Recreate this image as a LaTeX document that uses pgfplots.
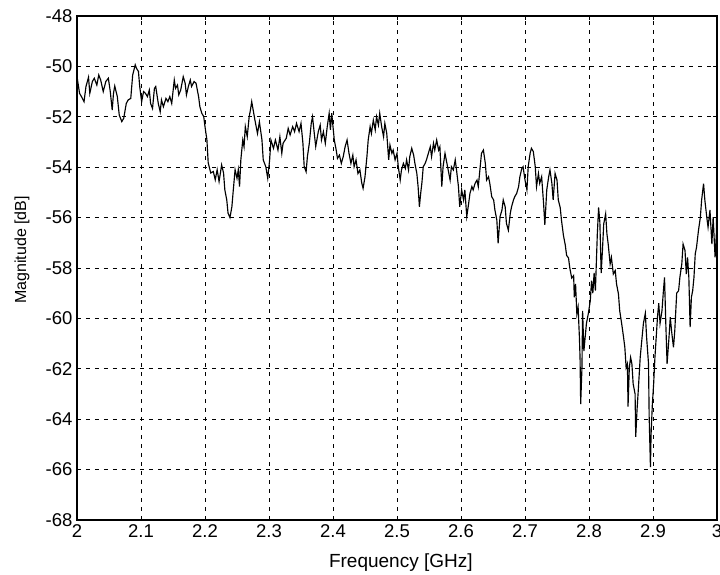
\documentclass[border=0pt]{standalone}
\usepackage{pgfplots}
\pgfplotsset{compat=1.18}
\usepackage{fontspec}
\setmainfont{Liberation Sans}
\begin{document}
\begin{tikzpicture}
\begin{axis}[
  name=ax, at={(0,0)}, anchor=south west,
  scale only axis, width=640pt, height=504pt,
  xmin=2, xmax=3, ymin=-68, ymax=-48,
  xtick={2,2.1,2.2,2.3,2.4,2.5,2.6,2.7,2.8,2.9,3},
  xticklabels={2,2.1,2.2,2.3,2.4,2.5,2.6,2.7,2.8,2.9,3},
  ytick={-68,-66,-64,-62,-60,-58,-56,-54,-52,-50,-48},
  yticklabels={-68,-66,-64,-62,-60,-58,-56,-54,-52,-50,-48},
  tick align=inside, major tick length=4pt,
  tick style={black, line width=0.6pt},
  axis line style={black, line width=1.2pt},
  grid=major,
  major grid style={black, line width=0.6pt, dash pattern=on 4pt off 5pt},
  ticklabel style={font=\fontsize{18.5}{21}\selectfont},
  xticklabel style={yshift=-1pt},
  yticklabel style={xshift=-1pt},
  xlabel={Frequency [GHz]},
  ylabel={Magnitude [dB]},
  xlabel style={font=\fontsize{19}{22}\selectfont, at={(axis description cs:0.506,-0.0853)}, anchor=center},
  ylabel style={font=\fontsize{16}{19}\selectfont, at={(axis description cs:-0.086,0.536)}, anchor=center, rotate=0},
  clip=true,
]
\addplot[black, line width=1.15pt] coordinates {
(2.000,-50.4) (2.004,-51.07) (2.007,-51.2) (2.011,-51.4) (2.014,-50.8) (2.018,-50.43) (2.020,-51.07) (2.024,-50.6) (2.027,-50.47) (2.031,-50.74) (2.034,-50.34) (2.037,-50.54) (2.041,-51.0) (2.045,-50.6) (2.049,-50.47) (2.052,-51.0) (2.055,-51.73) (2.057,-51.07) (2.059,-50.78) (2.063,-51.2) (2.066,-51.93) (2.070,-52.19) (2.073,-52.06) (2.077,-51.47) (2.080,-51.33) (2.084,-51.27) (2.087,-50.34) (2.091,-49.94) (2.093,-50.08) (2.096,-50.2) (2.098,-50.8) (2.101,-51.4) (2.104,-51.0) (2.107,-51.07) (2.110,-51.2) (2.113,-50.94) (2.115,-51.47) (2.118,-51.67) (2.121,-50.87) (2.123,-50.8) (2.127,-51.47) (2.130,-51.8) (2.132,-51.33) (2.135,-51.6) (2.139,-51.27) (2.142,-51.4) (2.145,-51.2) (2.148,-51.47) (2.152,-50.54) (2.154,-50.87) (2.157,-50.74) (2.159,-51.13) (2.162,-50.94) (2.166,-50.41) (2.169,-50.67) (2.171,-51.13) (2.174,-50.8) (2.177,-50.54) (2.179,-50.8) (2.183,-50.6) (2.186,-50.67) (2.190,-51.2) (2.192,-51.6) (2.195,-51.86) (2.198,-51.99) (2.200,-52.39)
(2.203,-52.92) (2.205,-53.83) (2.209,-54.23) (2.213,-54.17) (2.216,-54.5) (2.219,-54.1) (2.222,-54.57) (2.226,-53.91) (2.229,-54.23) (2.231,-54.9) (2.234,-55.3) (2.236,-55.82) (2.239,-56.0) (2.242,-55.57) (2.244,-54.97) (2.247,-54.1) (2.250,-54.44) (2.252,-54.1) (2.254,-54.77) (2.256,-53.71) (2.259,-52.92) (2.261,-53.19) (2.263,-52.39) (2.266,-52.79) (2.269,-52.0) (2.271,-51.73) (2.273,-51.4)
(2.278,-52.13) (2.282,-52.66) (2.285,-52.2) (2.289,-52.92) (2.291,-53.71) (2.295,-53.98) (2.298,-54.44) (2.301,-53.71) (2.303,-52.92) (2.307,-53.25) (2.310,-52.92) (2.314,-53.32) (2.317,-52.79) (2.320,-53.45) (2.322,-53.05) (2.327,-52.85) (2.330,-52.46) (2.333,-52.72) (2.337,-52.39) (2.340,-52.59) (2.343,-52.26) (2.347,-52.59) (2.350,-52.26) (2.353,-53.05) (2.355,-53.98) (2.358,-54.18) (2.360,-53.58) (2.363,-53.05) (2.366,-52.26) (2.368,-52.0) (2.371,-52.72) (2.373,-53.18) (2.377,-52.59) (2.380,-52.33) (2.382,-52.92) (2.385,-52.59) (2.388,-53.05) (2.391,-52.39) (2.394,-51.86) (2.396,-52.52) (2.398,-51.86) (2.402,-52.92) (2.405,-53.32) (2.407,-53.65) (2.410,-53.52) (2.413,-53.85) (2.416,-53.58) (2.419,-53.18) (2.422,-52.92) (2.425,-53.45) (2.428,-53.85) (2.431,-53.52) (2.433,-53.98) (2.436,-53.71) (2.439,-54.25) (2.442,-54.11) (2.445,-54.64) (2.447,-54.84) (2.450,-54.38) (2.453,-53.58) (2.455,-52.92) (2.458,-52.39) (2.460,-52.66) (2.463,-52.13) (2.466,-52.52) (2.468,-52.0) (2.471,-52.33) (2.473,-51.86) (2.476,-52.39) (2.479,-52.79) (2.481,-52.26) (2.484,-52.66) (2.487,-53.71) (2.489,-53.12) (2.492,-53.45) (2.494,-53.32) (2.497,-53.71) (2.500,-53.45) (2.502,-53.98) (2.505,-54.51) (2.507,-54.11) (2.510,-53.85) (2.513,-54.05) (2.515,-53.71) (2.518,-54.11) (2.520,-53.58) (2.523,-53.25) (2.526,-53.52) (2.528,-53.85) (2.531,-54.25) (2.533,-54.78) (2.535,-55.57) (2.537,-55.04)
(2.539,-54.6) (2.541,-53.98) (2.544,-53.85) (2.546,-53.71) (2.549,-53.45) (2.552,-53.19) (2.554,-53.58) (2.557,-53.05) (2.559,-53.32) (2.562,-52.92) (2.565,-53.32) (2.567,-53.19) (2.570,-54.77) (2.572,-53.98) (2.575,-53.45) (2.578,-53.85) (2.580,-54.11) (2.583,-54.51) (2.585,-53.98) (2.588,-54.11) (2.591,-53.71) (2.593,-54.11) (2.596,-54.77) (2.598,-55.57) (2.601,-54.9) (2.604,-55.3) (2.606,-54.9) (2.609,-55.96) (2.612,-55.43) (2.614,-55.04) (2.617,-54.77) (2.619,-54.9) (2.622,-54.64) (2.625,-54.51) (2.627,-54.77) (2.630,-53.98) (2.632,-53.45) (2.635,-53.32) (2.638,-53.85) (2.640,-54.51) (2.643,-54.38) (2.645,-54.64) (2.648,-55.17) (2.651,-55.3) (2.653,-55.7) (2.656,-56.1) (2.658,-57.02) (2.661,-55.96) (2.664,-55.7) (2.666,-55.3) (2.669,-55.57) (2.671,-56.23) (2.674,-56.5) (2.677,-55.83) (2.679,-55.57) (2.682,-55.3) (2.684,-55.17) (2.687,-55.04) (2.690,-54.77) (2.692,-54.38) (2.695,-54.05) (2.697,-53.98) (2.700,-54.51) (2.703,-54.9) (2.705,-53.98) (2.708,-53.45) (2.710,-53.25) (2.713,-53.38) (2.716,-53.98) (2.718,-54.77) (2.721,-54.25) (2.723,-54.64) (2.726,-54.38) (2.729,-55.43) (2.731,-56.29) (2.734,-54.9) (2.737,-54.38) (2.739,-54.11) (2.742,-54.64) (2.744,-55.3) (2.747,-54.25) (2.750,-54.51) (2.752,-55.3) (2.755,-55.6)
(2.757,-56.1) (2.760,-56.7) (2.763,-57.1) (2.765,-57.5) (2.768,-57.6) (2.770,-58.0) (2.773,-58.4) (2.776,-58.3) (2.777,-59.16) (2.779,-58.63) (2.781,-59.82) (2.783,-59.56) (2.785,-60.75) (2.786,-61.55) (2.787,-63.4) (2.789,-61.95) (2.790,-59.7) (2.792,-61.3) (2.794,-60.75) (2.796,-60.2) (2.799,-59.8) (2.802,-59.3) (2.804,-58.5) (2.806,-59.0) (2.808,-58.2) (2.810,-58.9) (2.813,-56.65) (2.815,-55.6) (2.817,-56.2) (2.819,-58.2) (2.821,-57.3) (2.823,-56.25) (2.826,-55.85) (2.828,-56.65) (2.830,-57.05) (2.833,-57.84) (2.835,-57.58) (2.838,-58.24) (2.841,-58.1) (2.843,-58.63) (2.846,-59.03) (2.848,-59.7) (2.851,-60.2) (2.854,-60.75) (2.856,-61.15) (2.858,-61.95) (2.860,-61.8) (2.861,-63.5) (2.863,-61.95) (2.865,-61.55) (2.867,-61.8) (2.869,-62.6) (2.872,-63.0) (2.873,-64.7) (2.875,-63.65) (2.877,-62.85) (2.880,-61.55) (2.882,-61.0) (2.885,-60.2) (2.888,-59.8) (2.890,-60.75) (2.893,-61.8) (2.894,-63.9) (2.896,-65.9) (2.897,-64.6) (2.899,-63.4) (2.901,-62.6) (2.903,-61.55) (2.905,-60.75) (2.907,-59.95) (2.909,-59.4) (2.911,-60.2) (2.914,-59.7) (2.916,-59.0) (2.918,-58.37) (2.920,-60.2) (2.922,-61.8) (2.925,-60.75) (2.927,-59.95) (2.929,-60.5) (2.932,-61.15) (2.934,-60.5) (2.937,-59.0) (2.940,-58.9) (2.942,-58.37) (2.945,-57.84) (2.947,-57.05) (2.950,-57.3) (2.952,-58.24) (2.954,-57.58) (2.956,-58.37) (2.958,-60.35) (2.960,-59.16) (2.962,-58.9) (2.964,-58.37) (2.966,-57.44) (2.968,-57.18) (2.971,-56.52) (2.974,-55.98) (2.976,-55.3) (2.979,-54.65) (2.981,-55.3) (2.984,-55.98) (2.986,-56.38) (2.989,-55.7) (2.992,-57.05) (2.994,-55.98) (2.997,-57.58) (2.999,-56.65) (3.000,-54.6)
};
\end{axis}
\pgfresetboundingbox
\useasboundingbox (-77pt,-55pt) rectangle (643pt,520pt);
\end{tikzpicture}
\end{document}
